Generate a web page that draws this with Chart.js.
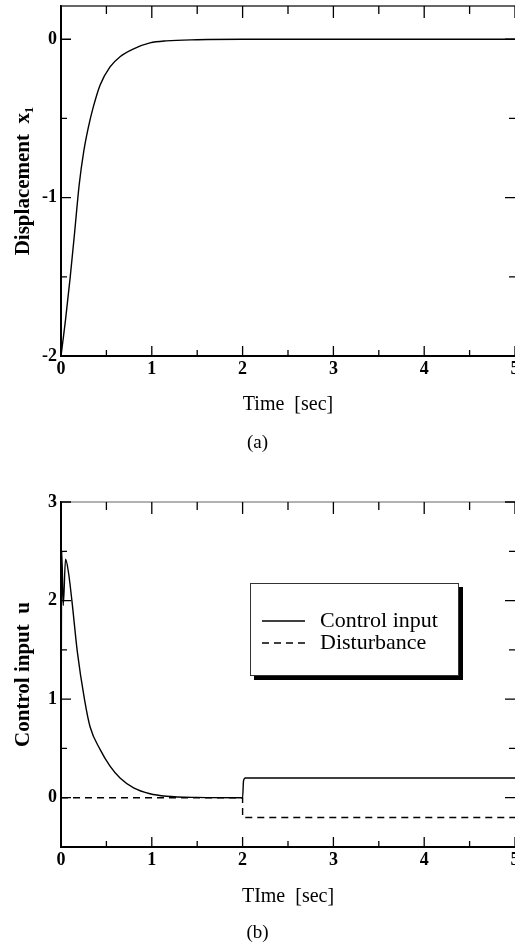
<!DOCTYPE html>
<html>
<head>
<meta charset="utf-8">
<script src="https://cdn.jsdelivr.net/npm/chart.js@4"></script>
<style>
  html, body { margin: 0; padding: 0; background: #fff; overflow: hidden; }
  canvas { display: block; }
</style>
</head>
<body>
<canvas id="chart-a" width="515" height="474"></canvas>
<canvas id="chart-b" width="515" height="474"></canvas>
<script>
// datos
const timeA = [0, 0.02, 0.05, 0.1, 0.15, 0.2, 0.25, 0.3, 0.35, 0.43, 0.54, 0.65, 0.8, 0.98, 1.16, 1.5, 2, 3, 4, 5];
const displacement = [-2, -1.91, -1.77, -1.51, -1.22, -0.92, -0.71, -0.56, -0.44, -0.29, -0.175, -0.11, -0.06, -0.023, -0.01, -0.003, 0, 0, 0, 0];

const timeB = [0, 0.008, 0.025, 0.05, 0.08, 0.12, 0.18, 0.26, 0.32, 0.43, 0.54, 0.65, 0.8, 0.98, 1.16, 1.5, 2.0, 2.01, 2.03, 3, 4, 5];
const controlInput = [0, 2.5, 1.95, 2.42, 2.3, 2.0, 1.48, 0.99, 0.72, 0.49, 0.32, 0.2, 0.1, 0.04, 0.015, 0.003, 0, 0.17, 0.2, 0.2, 0.2, 0.2];

const timeDist = [0, 2, 2, 5];
const disturbance = [0, 0, -0.2, -0.2];

const serif = "'Liberation Serif', 'Times New Roman', serif";

const toPoints = (xs, ys) => xs.map((x, i) => ({ x: x, y: ys[i] }));
const intLabel = (v) => (Number.isInteger(v) ? String(v) : "");

// ticks hacia adentro en los cuatro lados + borde superior
const framePlugin = {
  id: "frame",
  afterDraw(chart, args, opts) {
    const ctx = chart.ctx;
    const a = chart.chartArea;
    const xs = chart.scales.x;
    const ys = chart.scales.y;
    ctx.save();
    ctx.strokeStyle = opts.topColor || "#444";
    ctx.lineWidth = 1.5;
    ctx.beginPath();
    ctx.moveTo(a.left, a.top);
    ctx.lineTo(a.right, a.top);
    ctx.stroke();
    ctx.strokeStyle = "#000";
    ctx.lineWidth = 1.3;
    xs.ticks.forEach((t) => {
      const v = t.value;
      if (Math.abs(v * 2 - Math.round(v * 2)) > 1e-6) return;
      const len = Number.isInteger(v) ? 10 : 6;
      const px = xs.getPixelForValue(v);
      ctx.beginPath();
      ctx.moveTo(px, a.bottom);
      ctx.lineTo(px, a.bottom - len);
      ctx.moveTo(px, a.top);
      ctx.lineTo(px, a.top + len + 2);
      ctx.stroke();
    });
    ys.ticks.forEach((t) => {
      const v = t.value;
      if (Math.abs(v * 2 - Math.round(v * 2)) > 1e-6) return;
      const len = Number.isInteger(v) ? 10 : 6;
      const py = ys.getPixelForValue(v);
      ctx.beginPath();
      ctx.moveTo(a.left, py);
      ctx.lineTo(a.left + len, py);
      ctx.moveTo(a.right, py);
      ctx.lineTo(a.right - len, py);
      ctx.stroke();
    });
    ctx.restore();
  },
};

// leyenda con sombra, dentro del grafico (b)
const boxLegendPlugin = {
  id: "boxLegend",
  afterDraw(chart, args, opts) {
    if (!opts.show) return;
    const ctx = chart.ctx;
    const a = chart.chartArea;
    const left = a.left + 189;
    const top = a.top + 81;
    const w = 208;
    const h = 92;
    ctx.save();
    ctx.fillStyle = "#000";
    ctx.fillRect(left + w, top + 4, 5, h + 1);
    ctx.fillRect(left + 4, top + h, w + 1, 5);
    ctx.fillStyle = "#fff";
    ctx.fillRect(left, top, w, h);
    ctx.strokeStyle = "#333";
    ctx.lineWidth = 1;
    ctx.strokeRect(left + 0.5, top + 0.5, w, h);
    chart.data.datasets.forEach((ds, i) => {
      const y = top + 38 + i * 22;
      ctx.strokeStyle = "#000";
      ctx.lineWidth = 1.3;
      ctx.setLineDash(ds.borderDash || []);
      ctx.beginPath();
      ctx.moveTo(left + 12, y);
      ctx.lineTo(left + 55, y);
      ctx.stroke();
      ctx.setLineDash([]);
      ctx.fillStyle = "#000";
      ctx.font = "22px " + serif;
      ctx.textBaseline = "middle";
      ctx.textAlign = "left";
      ctx.fillText(ds.label, left + 70, y);
    });
    ctx.restore();
  },
};

function makeOptions(cfg) {
  return {
    responsive: false,
    animation: false,
    devicePixelRatio: 1,
    layout: { padding: { top: cfg.padTop, right: 0, left: 0, bottom: 0 } },
    plugins: {
      legend: { display: false },
      tooltip: { enabled: false },
      title: {
        display: true,
        text: cfg.caption,
        position: "bottom",
        color: "#000",
        font: { family: serif, size: 19, weight: "normal" },
        padding: { top: 0, bottom: cfg.captionPad },
      },
      frame: { topColor: cfg.topColor },
      boxLegend: { show: cfg.showLegend },
    },
    scales: {
      x: {
        type: "linear",
        min: 0,
        max: 5,
        afterFit: (s) => {
          s.height = cfg.xHeight;
          s.paddingLeft = 0;
          s.paddingRight = 0;
        },
        ticks: {
          stepSize: 0.5,
          autoSkip: false,
          maxRotation: 0,
          padding: 3,
          color: "#000",
          font: { family: serif, size: 18, weight: "bold" },
          callback: intLabel,
        },
        grid: { drawOnChartArea: false, drawTicks: false },
        border: { display: true, color: "#000", width: 2 },
        title: {
          display: true,
          text: cfg.xTitle,
          color: "#000",
          font: { family: serif, size: 20, weight: "normal" },
          padding: { top: 0, bottom: cfg.xTitlePad },
        },
      },
      y: {
        min: cfg.yMin,
        max: cfg.yMax,
        afterFit: (s) => {
          s.width = 61;
          s.paddingTop = 0;
          s.paddingBottom = 0;
        },
        ticks: {
          stepSize: 0.5,
          autoSkip: false,
          padding: 4,
          color: "#000",
          font: { family: serif, size: 18, weight: "bold" },
          callback: intLabel,
        },
        grid: { drawOnChartArea: false, drawTicks: false },
        border: { display: true, color: "#000", width: 2 },
        title: {
          display: true,
          text: cfg.yTitle,
          color: "#000",
          font: { family: serif, size: 21, weight: "bold" },
          padding: { top: 11, bottom: 0 },
        },
      },
    },
  };
}

const chartA = new Chart(document.querySelector("#chart-a").getContext("2d"), {
  type: "line",
  data: {
    datasets: [
      {
        label: "Displacement",
        data: toPoints(timeA, displacement),
        borderColor: "#000",
        borderWidth: 1.4,
        pointRadius: 0,
        cubicInterpolationMode: "monotone",
        fill: false,
      },
    ],
  },
  options: makeOptions({
    padTop: 6,
    caption: "(a)",
    captionPad: 19.6,
    xHeight: 75.6,
    xTitle: "Time  [sec]",
    xTitlePad: 14.6,
    yTitle: "Displacement  x\u2081",
    yMin: -2,
    yMax: 0.21,
    topColor: "#333",
    showLegend: false,
  }),
  plugins: [framePlugin, boxLegendPlugin],
});

const chartB = new Chart(document.querySelector("#chart-b").getContext("2d"), {
  type: "line",
  data: {
    datasets: [
      {
        label: "Control input",
        data: toPoints(timeB, controlInput),
        borderColor: "#000",
        borderWidth: 1.4,
        pointRadius: 0,
        cubicInterpolationMode: "monotone",
        fill: false,
      },
      {
        label: "Disturbance",
        data: toPoints(timeDist, disturbance),
        borderColor: "#000",
        borderWidth: 1.4,
        borderDash: [7, 5],
        pointRadius: 0,
        tension: 0,
        fill: false,
      },
    ],
  },
  options: makeOptions({
    padTop: 28,
    caption: "(b)",
    captionPad: 3.6,
    xHeight: 74.6,
    xTitle: "TIme  [sec]",
    xTitlePad: 12.6,
    yTitle: "Control input  u",
    yMin: -0.5,
    yMax: 3,
    topColor: "#999",
    showLegend: true,
  }),
  plugins: [framePlugin, boxLegendPlugin],
});
</script>
</body>
</html>
